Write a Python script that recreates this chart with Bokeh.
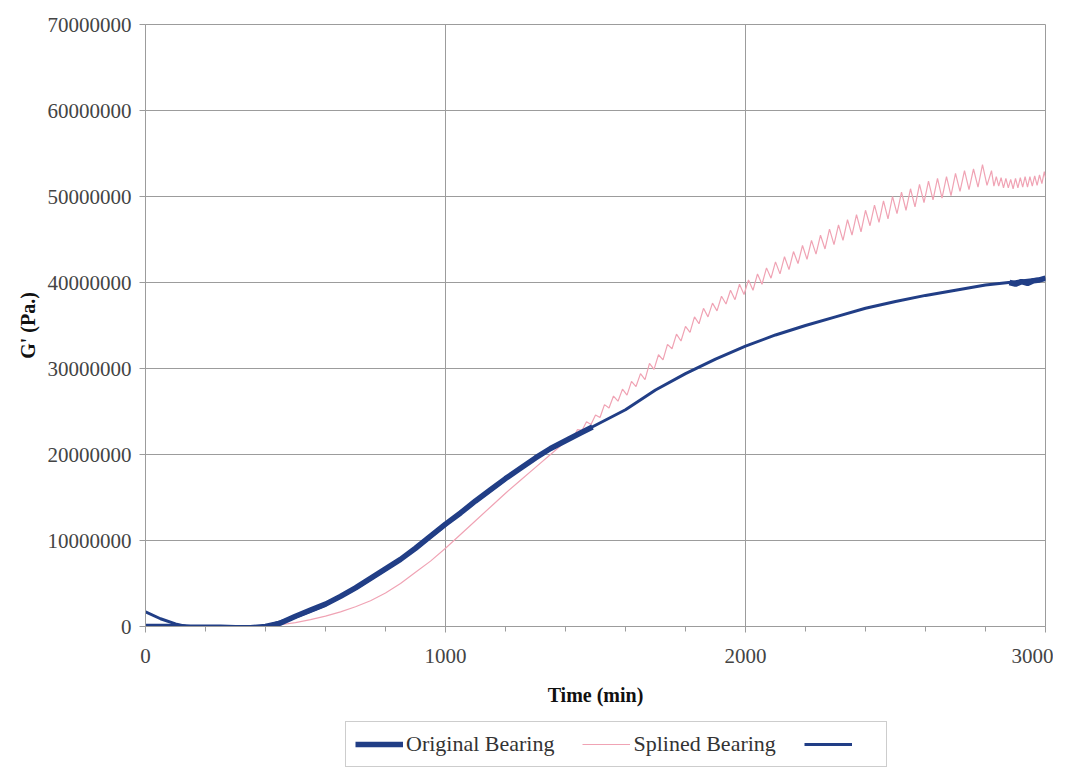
from bokeh.plotting import figure
from bokeh.layouts import column
from bokeh.models import Range1d, Legend, LegendItem, NumeralTickFormatter, FixedTicker
from bokeh.embed import file_html
from bokeh.resources import INLINE

NAN = float("nan")

# Original Bearing (thick navy), values in millions of Pa
orig_x = [0, 50, 100, 150, 200, 250, 300, 350, 400, 450, 500, 550, 600, 650, 700, 750,
          800, 850, 900, 950, 1000, 1050, 1100, 1150, 1200, 1250, 1300, 1350, 1400, 1450, 1490,
          NAN, 2880, 2900, 2920, 2940, 2960, 2980, 3000]
orig_m = [0.0, 0.0, 0.0, -0.1, -0.1, -0.1, -0.15, -0.15, 0.0, 0.4, 1.2, 1.9, 2.6, 3.5, 4.5, 5.6,
          6.7, 7.8, 9.1, 10.5, 11.9, 13.2, 14.6, 15.9, 17.2, 18.4, 19.6, 20.7, 21.6, 22.5, 23.2,
          NAN, 40.0, 39.8, 40.1, 39.9, 40.2, 40.3, 40.5]

# Third (unlabelled) navy series
fit_x = [0, 50, 100, 150, 200, 300, 350, 400, 500, 600, 700, 800, 900, 1000, 1100, 1200, 1300,
         1400, 1500, 1600, 1700, 1800, 1900, 2000, 2100, 2200, 2300, 2400, 2500, 2600, 2700,
         2800, 2900, 3000]
fit_m = [1.7, 0.9, 0.3, -0.1, -0.2, -0.2, -0.2, 0.0, 1.1, 2.5, 4.4, 6.6, 9.0, 11.8, 14.5, 17.1, 19.6,
         21.6, 23.4, 25.2, 27.5, 29.4, 31.1, 32.6, 33.9, 35.0, 36.0, 37.0, 37.8, 38.5, 39.1,
         39.7, 40.1, 40.5]

# Splined Bearing (thin pink)
spl_x = [350, 400, 450, 500, 550, 600, 650, 700, 750, 800, 850, 900, 950, 1000, 1050, 1100, 1150,
         1200, 1250, 1300, 1350, 1400,
         1410, 1425, 1440, 1455, 1470, 1485, 1500, 1515, 1530, 1545, 1560, 1575, 1590, 1605, 1620,
         1635, 1650, 1665, 1680, 1695, 1710, 1725, 1740, 1755, 1770, 1785, 1800, 1815, 1830, 1845,
         1860, 1875, 1890, 1905, 1920, 1935, 1950, 1965, 1980, 1995, 2010, 2025, 2040, 2055, 2070,
         2085, 2100, 2115, 2130, 2145, 2160, 2175, 2190, 2205, 2220, 2235, 2250, 2265, 2280, 2295,
         2310, 2325, 2340, 2355, 2370, 2385, 2400, 2415, 2430, 2445, 2460, 2475, 2490, 2505, 2520,
         2535, 2550, 2565, 2580, 2595, 2610, 2625, 2640, 2655, 2670, 2685, 2700, 2715, 2730, 2745,
         2760, 2775, 2790, 2805, 2820,
         2828, 2836, 2844, 2852, 2860, 2868, 2876, 2884, 2892, 2900, 2908, 2916, 2924, 2932, 2940,
         2948, 2956, 2964, 2972, 2980, 2988, 2996, 3000]
spl_m = [0.0, 0.05, 0.2, 0.45, 0.8, 1.2, 1.7, 2.3, 3.0, 3.9, 5.0, 6.3, 7.6, 9.1, 10.7, 12.3, 13.9,
         15.5, 17.0, 18.5, 20.0, 21.5,
         22.1, 21.9, 22.9, 22.8, 23.8, 23.5, 24.6, 24.3, 25.8, 25.4, 26.8, 26.2, 27.6, 26.9, 28.5,
         27.9, 29.4, 28.7, 30.6, 29.9, 31.6, 31.0, 32.8, 32.3, 34.0, 33.2, 34.9, 34.2, 36.0, 35.2,
         37.0, 36.0, 37.6, 36.7, 38.4, 37.5, 39.1, 38.0, 39.8, 38.6, 40.3, 39.1, 41.0, 39.8, 41.7,
         40.5, 42.4, 41.0, 43.0, 41.5, 43.6, 42.2, 44.3, 42.7, 44.9, 43.3, 45.5, 43.9, 46.2, 44.4,
         46.7, 44.9, 47.3, 45.5, 47.9, 45.9, 48.4, 46.6, 49.0, 47.0, 49.5, 47.4, 50.0, 48.0, 50.5,
         48.4, 50.9, 48.8, 51.4, 49.3, 51.8, 49.6, 52.1, 49.8, 52.3, 50.1, 52.7, 50.6, 53.0, 50.8,
         53.2, 51.1, 53.7, 51.3, 53.0,
         51.2, 52.3, 51.2, 52.2, 51.0, 52.1, 51.0, 52.0, 50.9, 52.1, 51.0, 52.2, 51.1, 52.3, 51.1,
         52.3, 51.2, 52.4, 51.3, 52.5, 51.5, 52.9, 52.2]

y_ticks = [0, 10000000, 20000000, 30000000, 40000000, 50000000, 60000000, 70000000]
x_ticks = [0, 1000, 2000, 3000]
x_minor = [200, 400, 600, 800, 1200, 1400, 1600, 1800, 2200, 2400, 2600, 2800]

series_labels = ["Original Bearing", "Splined Bearing", "\u00a0\u00a0\u00a0\u00a0"]

SCALE = 1e6
orig_y = [v * SCALE for v in orig_m]
fit_y = [v * SCALE for v in fit_m]
spl_y = [v * SCALE for v in spl_m]

NAVY = "#213e86"
PINK = "#f0a3b4"
GRID = "#9c9c9c"
FONT = "Liberation Serif"
W_ORIG, W_FIT, W_SPL = 5.5, 3, 1.2

p = figure(width=1053, height=712, x_range=Range1d(0, 3000), y_range=Range1d(0, 70000000),
           output_backend="svg", toolbar_location=None,
           min_border_left=145, min_border_right=8, min_border_top=24, min_border_bottom=86)

p.outline_line_color = GRID
p.background_fill_color = "white"
p.border_fill_color = "white"

p.line(spl_x, spl_y, line_color=PINK, line_width=W_SPL)
p.line(fit_x, fit_y, line_color=NAVY, line_width=W_FIT)
p.line(orig_x, orig_y, line_color=NAVY, line_width=W_ORIG)

# axes
p.yaxis.ticker = FixedTicker(ticks=y_ticks)
p.yaxis.formatter = NumeralTickFormatter(format="0")
p.xaxis.ticker = FixedTicker(ticks=x_ticks, minor_ticks=x_minor)
for ax in (p.xaxis[0], p.yaxis[0]):
    ax.axis_line_color = GRID
    ax.major_tick_line_color = GRID
    ax.minor_tick_line_color = GRID
    ax.major_tick_out = 6
    ax.major_tick_in = 0
    ax.minor_tick_in = 0
    ax.major_label_text_font = FONT
    ax.major_label_text_font_size = "21px"
    ax.major_label_text_color = "#444444"
    ax.axis_label_text_font = FONT
    ax.axis_label_text_font_style = "bold"
    ax.axis_label_text_font_size = "20px"
    ax.axis_label_text_color = "#111111"
p.yaxis.minor_tick_line_color = None
p.xaxis.minor_tick_out = 5
p.yaxis.major_label_standoff = 8
p.xaxis.major_label_standoff = 16
p.xaxis.axis_label = "Time (min)"
p.yaxis.axis_label = "G' (Pa.)"
p.xaxis.axis_label_standoff = 18
p.yaxis.axis_label_standoff = 6

p.xgrid.grid_line_color = GRID
p.ygrid.grid_line_color = GRID

# legend strip below the chart (same series drawn out of its visible range)
lg = figure(width=1053, height=56, x_range=Range1d(-100, -99), y_range=Range1d(0, 1),
            output_backend="svg", toolbar_location=None,
            min_border_left=0, min_border_right=0, min_border_top=0, min_border_bottom=0)
lg.axis.visible = False
lg.grid.visible = False
lg.outline_line_color = None
g1 = lg.line(orig_x, orig_y, line_color=NAVY, line_width=W_ORIG)
g2 = lg.line(spl_x, spl_y, line_color=PINK, line_width=W_SPL)
g3 = lg.line(fit_x, fit_y, line_color=NAVY, line_width=W_FIT)
legend = Legend(items=[LegendItem(label=series_labels[0], renderers=[g1]),
                       LegendItem(label=series_labels[1], renderers=[g2]),
                       LegendItem(label=series_labels[2], renderers=[g3])],
                orientation="horizontal", location=(200, 1),
                border_line_color=GRID, border_line_width=1,
                padding=9, spacing=28, glyph_width=48, label_standoff=3,
                label_text_font=FONT, label_text_font_size="22px", label_text_color="#333333",
                margin=0)
lg.add_layout(legend, "center")

layout = column(p, lg, spacing=0)
open("out.html", "w").write(file_html(layout, INLINE))
